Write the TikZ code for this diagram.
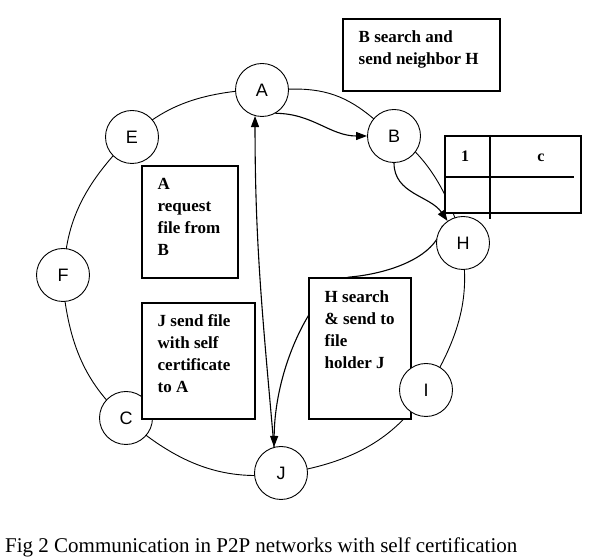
\documentclass[tikz,border=0pt]{standalone}
\usepackage{fontspec}
\setmainfont{Liberation Serif}
\newfontfamily\peerfont{Liberation Sans}
\usetikzlibrary{arrows.meta,backgrounds}

\begin{document}
\begin{tikzpicture}[x=1pt, y=1pt,
    peer/.style={circle, draw, fill=white, line width=0.9pt, minimum size=53pt, inner sep=0pt, font=\peerfont\fontsize{18}{18}\selectfont},
    msgbox/.style={draw, fill=white, line width=1.9pt, anchor=north west, inner sep=0pt},
    msgtext/.style={anchor=north west, inner sep=0pt, align=left, font=\bfseries\fontsize{17}{22}\selectfont},
    ring/.style={line width=0.9pt},
    tip/.style={line width=1.1pt, -{Triangle[length=11pt,width=8pt]}}]
  \useasboundingbox (0,0) rectangle (592,559);

  % Peers on the ring
  \node[peer] (A) at (262,469) {A};
  \node[peer] (B) at (394,423) {B};
  \node[peer] (H) at (463,316) {H};
  \node[peer] (I) at (426,169) {I};
  \node[peer] (J) at (281,86) {J};
  \node[peer] (C) at (126,141) {C};
  \node[peer] (F) at (63,284) {F};
  \node[peer] (E) at (132,422) {E};

  % Messages
  \draw[tip] (A.300) to[out=0, in=180] (B.west);
  \draw[tip] (B.south) to[out=-90, in=125] (H.125);
  \draw[line width=1.1pt, {Triangle[length=11pt,width=8pt]}-] (A.255) to[out=-90, in=95] (J.105);

  % Request box
  \node[msgbox, minimum width=96pt, minimum height=112pt] (reqbox) at (141,394) {};
  \node[msgtext] (reqtxt) at ([shift={(16.5,-8.6)}]reqbox.north west) {\strut A\\request\\file from\\B};

  % Reply box
  \node[msgbox, minimum width=113pt, minimum height=116pt] (sendbox) at (141,257) {};
  \node[msgtext] (sendtxt) at ([shift={(16.5,-8.6)}]sendbox.north west) {\strut J send file\\with self\\certificate\\to A};

  % B searches
  \node[msgbox, minimum width=157pt, minimum height=72pt] (srchB) at (342,541) {};
  \node[msgtext] (srchBtxt) at ([shift={(16.5,-8.6)}]srchB.north west) {\strut B search and\\send neighbor H};

  % Ring and H searches, under the peers
  \begin{pgfonlayer}{background}
    \draw[ring] (A) to[bend left=21] (B) to[bend left=18] (H) to[bend left=22] (I)
      to[bend left=25] (J) to[bend left=25] (C) to[bend left=23] (F)
      to[bend left=23] (E) to[bend left=21] (A);
    \draw[tip] (H.140) .. controls (436,300) and (385,285) .. (350,282)
      .. controls (320,279) and (275,200) .. (J.105);
    \node[msgbox, minimum width=102pt, minimum height=141pt] (srchH) at (308,282) {};
    \node[msgtext] (srchHtxt) at ([shift={(16.5,-9.6)}]srchH.north west) {\strut H search\\\& send to\\file\\holder J};
  \end{pgfonlayer}

  % Table
  \node[msgbox, minimum width=136pt, minimum height=77pt] (tab) at (444,424) {};
  \draw[line width=1.9pt] ([xshift=46pt]tab.north west) -- ++(0,-84);
  \draw[line width=1.9pt] ([yshift=-42pt]tab.north west) -- ++(130,0);
  \node[anchor=base, font=\bfseries\fontsize{16}{16}\selectfont] (one) at (465,397) {1};
  \node[anchor=base, font=\bfseries\fontsize{16}{16}\selectfont] (cee) at (541,397) {c};

  % Caption
  \node[anchor=base west, inner sep=0pt, font=\fontsize{21}{25}\selectfont] (cap) at (5,6)
    {Fig 2 Communication in P2P networks with self certification};
\end{tikzpicture}
\end{document}
